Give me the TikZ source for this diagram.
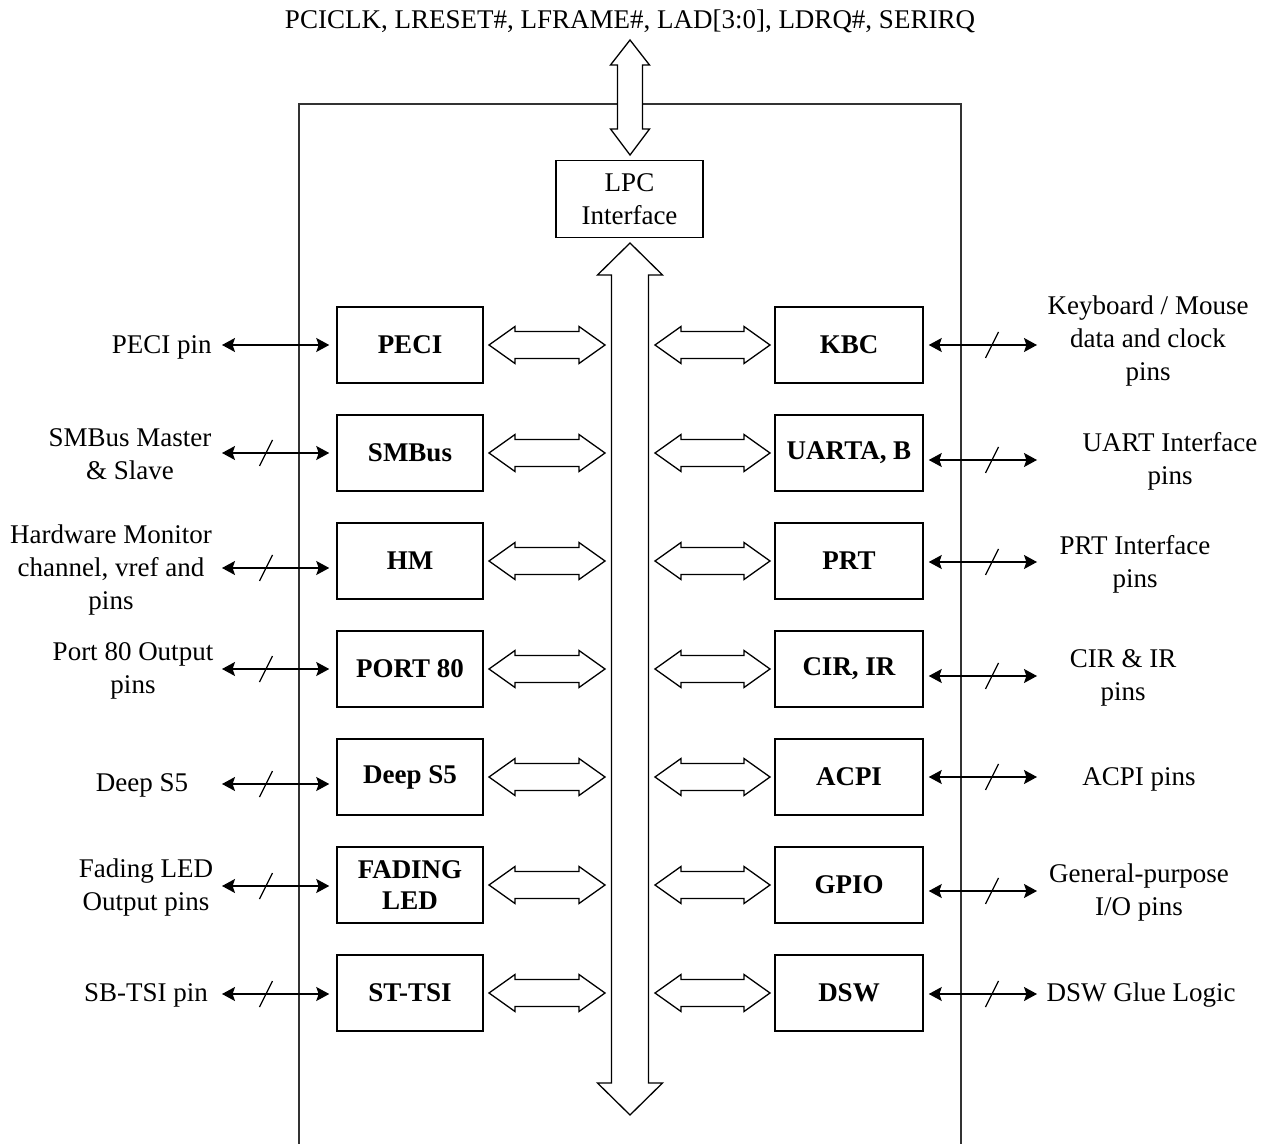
\documentclass[tikz,border=0pt]{standalone}
\usepackage{fontspec}
\setmainfont{Liberation Serif}
\usetikzlibrary{arrows.meta,calc}
\tikzset{
  blk/.style={draw, line width=0.75pt, minimum width=73pt, minimum height=38pt, inner sep=0pt, font=\fontsize{13.5}{16.5}\selectfont\bfseries, align=center},
  rblk/.style={blk, minimum width=74pt},
  lbl/.style={align=center, inner sep=0pt},
  sig/.style={{Stealth[length=6.5pt,width=7pt,inset=1.2pt]}-{Stealth[length=6.5pt,width=7pt,inset=1.2pt]}, line width=0.6pt},
  fat/.style={draw, fill=white, line width=0.65pt, line join=miter},
  frame/.style={draw=black!80, line width=0.75pt},
  slashln/.style={line width=0.6pt}
}
\newcommand\hfat[3]{\draw[fat] (#1,#3) -- (#1+26,#3-18.5) -- (#1+26,#3-13.5) -- (#2-26,#3-13.5) -- (#2-26,#3-18.5) -- (#2,#3) -- (#2-26,#3+18.5) -- (#2-26,#3+13.5) -- (#1+26,#3+13.5) -- (#1+26,#3+18.5) -- cycle;}
\newcommand\slashmark[1]{\draw[slashln] (#1) ++(-6.5,13) -- ++(13,-26);}
\begin{document}
\begin{tikzpicture}[x=0.5pt,y=-0.5pt, font=\fontsize{13.5}{16.5}\selectfont]
\useasboundingbox (0,0) rectangle (1269,1144);
% outer frame
\draw[frame] (299,1160) -- (299,104) -- (961,104) -- (961,1160);
% top text
\node[lbl] (toptxt) at (630,21) {PCICLK, LRESET\#, LFRAME\#, LAD[3:0], LDRQ\#, SERIRQ};
% LPC
\node[draw, line width=0.75pt, minimum width=73.5pt, minimum height=38.5pt, inner sep=0pt, align=center] (lpc) at (629.5,199) {LPC\\Interface};
% top double arrow
\draw[fat] (630,40) -- (649.5,65) -- (642.5,65) -- (642.5,129) -- (649.5,129) -- (630,155) -- (610.5,129) -- (617.5,129) -- (617.5,65) -- (610.5,65) -- cycle;
% main bus
\coordinate (bustop) at (630,243);
\coordinate (busbot) at (630,1115);
\draw[fat] (bustop) -- (662.5,275) -- (648.5,275) -- (648.5,1083) -- (662.5,1083) -- (busbot) -- (597.5,1083) -- (611.5,1083) -- (611.5,275) -- (597.5,275) -- cycle;
% left boxes
\node[blk] (peci)  at (410,345) {PECI};
\node[blk] (smbus) at (410,453) {SMBus};
\node[blk] (hm)    at (410,561) {HM};
\node[blk] (port)  at (410,669) {PORT 80};
\node[blk] (deep)  at (410,777) {Deep S5};
\node[blk] (fade)  at (410,885) {FADING\\[-1pt]LED};
\node[blk] (sttsi) at (410,993) {ST-TSI};
% right boxes
\node[rblk] (kbc)  at (849,345) {KBC};
\node[rblk] (uart) at (849,453) {UARTA, B};
\node[rblk] (prt)  at (849,561) {PRT};
\node[rblk] (cir)  at (849,669) {CIR, IR};
\node[rblk] (acpi) at (849,777) {ACPI};
\node[rblk] (gpio) at (849,885) {GPIO};
\node[rblk] (dsw)  at (849,993) {DSW};
% fat horizontal arrows
\foreach \yy in {345,453,561,669,777,885,993}{
  \hfat{489}{605}{\yy}
  \hfat{655}{770}{\yy}
}
% left labels
\node[lbl, anchor=east] (t1) at (212,347) {PECI pin};
\node[lbl] (t2) at (130,454) {SMBus Master\\\& Slave};
\node[lbl] (t3) at (111,570) {Hardware Monitor\\channel, vref and\\pins};
\node[lbl] (t4) at (133,671) {Port 80 Output\\pins};
\node[lbl] (t5) at (142,785) {Deep S5};
\node[lbl] (t6) at (146,888) {Fading LED\\Output pins};
\node[lbl] (t7) at (146,995) {SB-TSI pin};
% right labels
\node[lbl] (r1) at (1148,341) {Keyboard / Mouse\\data and clock\\pins};
\node[lbl] (r2) at (1170,461) {UART Interface\\pins};
\node[lbl] (r3) at (1135,564) {PRT Interface\\pins};
\node[lbl] (r4) at (1123,678) {CIR \& IR\\pins};
\node[lbl] (r5) at (1139,779) {ACPI pins};
\node[lbl] (r6) at (1139,893) {General-purpose\\I/O pins};
\node[lbl] (r7) at (1141,995) {DSW Glue Logic};
% left signal arrows
\coordinate (la1) at (222,345);
\coordinate (la2) at (222,453);
\coordinate (la3) at (222,568);
\coordinate (la4) at (222,669);
\coordinate (la5) at (222,784);
\coordinate (la6) at (222,886);
\coordinate (la7) at (222,994);
\draw[sig, shorten >=3.5pt] (la1) -- (la1 -| peci.west);
\draw[sig, shorten >=3.5pt] (la2) -- (la2 -| smbus.west);
\draw[sig, shorten >=3.5pt] (la3) -- (la3 -| hm.west);
\draw[sig, shorten >=3.5pt] (la4) -- (la4 -| port.west);
\draw[sig, shorten >=3.5pt] (la5) -- (la5 -| deep.west);
\draw[sig, shorten >=3.5pt] (la6) -- (la6 -| fade.west);
\draw[sig, shorten >=3.5pt] (la7) -- (la7 -| sttsi.west);
\foreach \yy in {453,568,669,784,886,994}{\slashmark{266,\yy}}
% right signal arrows
\coordinate (ra1) at (1037,345);
\coordinate (ra2) at (1037,460);
\coordinate (ra3) at (1037,562);
\coordinate (ra4) at (1037,676);
\coordinate (ra5) at (1037,777);
\coordinate (ra6) at (1037,891);
\coordinate (ra7) at (1037,994);
\draw[sig, shorten <=2.5pt] (ra1 -| kbc.east) -- (ra1);
\draw[sig, shorten <=2.5pt] (ra2 -| uart.east) -- (ra2);
\draw[sig, shorten <=2.5pt] (ra3 -| prt.east) -- (ra3);
\draw[sig, shorten <=2.5pt] (ra4 -| cir.east) -- (ra4);
\draw[sig, shorten <=2.5pt] (ra5 -| acpi.east) -- (ra5);
\draw[sig, shorten <=2.5pt] (ra6 -| gpio.east) -- (ra6);
\draw[sig, shorten <=2.5pt] (ra7 -| dsw.east) -- (ra7);
\foreach \yy in {345,460,562,676,777,891,994}{\slashmark{992,\yy}}
\end{tikzpicture}
\end{document}
